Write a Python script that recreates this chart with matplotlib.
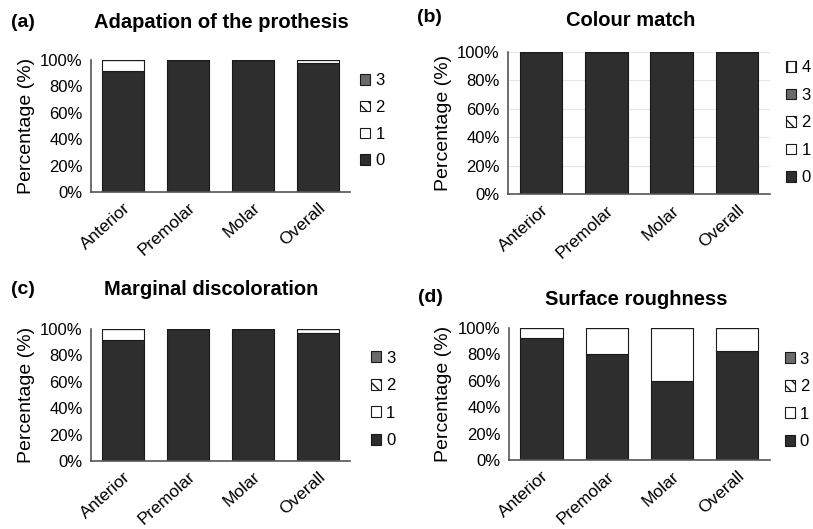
import numpy as np
import matplotlib.pyplot as plt
from matplotlib.ticker import PercentFormatter

plt.rcParams['font.family'] = ['Liberation Sans', 'DejaVu Sans']

categories = ['Anterior', 'Premolar', 'Molar', 'Overall']

# percentage of restorations per score (0 = best)
adaptation_0 = [91.7, 100, 100, 97.2]
adaptation_1 = [8.3, 0, 0, 2.8]
adaptation_2 = [0, 0, 0, 0]
adaptation_3 = [0, 0, 0, 0]

colour_0 = [100, 100, 100, 100]
colour_1 = [0, 0, 0, 0]
colour_2 = [0, 0, 0, 0]
colour_3 = [0, 0, 0, 0]
colour_4 = [0, 0, 0, 0]

marginal_0 = [92.0, 100, 100, 96.8]
marginal_1 = [8.0, 0, 0, 3.2]
marginal_2 = [0, 0, 0, 0]
marginal_3 = [0, 0, 0, 0]

roughness_0 = [92.3, 80.6, 60.0, 82.6]
roughness_1 = [7.7, 19.4, 40.0, 17.4]
roughness_2 = [0, 0, 0, 0]
roughness_3 = [0, 0, 0, 0]

score_styles = {
    '0': dict(color='#2e2e2e', hatch=None),
    '1': dict(color='white', hatch=None),
    '2': dict(color='white', hatch='\\\\\\'),
    '3': dict(color='#6a6a6a', hatch=None),
    '4': dict(color='white', hatch='||'),
}


def draw_panel(fig, rect, letter, title, series, title_xy, letter_xy, legend_xy, spacing, grid=False):
    ax = fig.add_axes(rect)
    x = np.arange(len(categories))
    bottom = np.zeros(len(categories))
    for label, vals in series:
        st = score_styles[label]
        vals = np.array(vals) / 100.0
        ax.bar(x, vals, 0.65, bottom=bottom, color=st['color'], hatch=st['hatch'],
               edgecolor='#1a1a1a', linewidth=0.8, label=label)
        bottom += vals
    ax.set_xlim(-0.5, 3.5)
    ax.set_ylim(0, 1.0)
    ax.set_yticks(np.arange(0, 1.01, 0.2))
    ax.yaxis.set_major_formatter(PercentFormatter(1.0, decimals=0))
    ax.set_xticks(x)
    ax.set_xticklabels(categories, rotation=42, ha='right', rotation_mode='anchor', fontsize=12.5)
    ax.tick_params(axis='y', labelsize=12, length=0, pad=6)
    ax.tick_params(axis='x', length=0, pad=6)
    for s in ['top', 'right']:
        ax.spines[s].set_visible(False)
    for s in ['left', 'bottom']:
        ax.spines[s].set_color('#555555')
        ax.spines[s].set_linewidth(1.2)
    if grid:
        ax.yaxis.grid(True, color='#e6e6e6', linewidth=0.8)
        ax.set_axisbelow(True)
    ax.set_ylabel('Percentage (%)', fontsize=14, labelpad=4)
    fig.text(title_xy[0], title_xy[1], title, fontsize=14.5, fontweight='bold', ha='center', va='center')
    fig.text(letter_xy[0], letter_xy[1], letter, fontsize=14, fontweight='bold', ha='left', va='center')
    h, l = ax.get_legend_handles_labels()
    ax.legend(h[::-1], l[::-1], loc='upper left', bbox_to_anchor=legend_xy, bbox_transform=fig.transFigure,
              frameon=False, fontsize=12, handlelength=0.6, handleheight=0.6, handletextpad=0.3,
              labelspacing=spacing, borderpad=0)
    return ax


fig = plt.figure(figsize=(8.13, 5.29), dpi=100)

draw_panel(fig, [0.112, 0.637, 0.3185, 0.25], '(a)', 'Adapation of the prothesis',
           [('0', adaptation_0), ('1', adaptation_1), ('2', adaptation_2), ('3', adaptation_3)],
           (0.272, 0.958), (0.013, 0.958), (0.433, 0.877), 0.7)

draw_panel(fig, [0.625, 0.633, 0.322, 0.269], '(b)', 'Colour match',
           [('0', colour_0), ('1', colour_1), ('2', colour_2), ('3', colour_3), ('4', colour_4)],
           (0.776, 0.962), (0.513, 0.966), (0.957, 0.902), 0.75, grid=True)

draw_panel(fig, [0.112, 0.1285, 0.3185, 0.2495], '(c)', 'Marginal discoloration',
           [('0', marginal_0), ('1', marginal_1), ('2', marginal_2), ('3', marginal_3)],
           (0.26, 0.452), (0.013, 0.452), (0.446, 0.353), 0.75)

draw_panel(fig, [0.626, 0.130, 0.321, 0.25], '(d)', 'Surface roughness',
           [('0', roughness_0), ('1', roughness_1), ('2', roughness_2), ('3', roughness_3)],
           (0.782, 0.434), (0.514, 0.438), (0.955, 0.351), 0.75)

fig.savefig('out.png', dpi=100)
